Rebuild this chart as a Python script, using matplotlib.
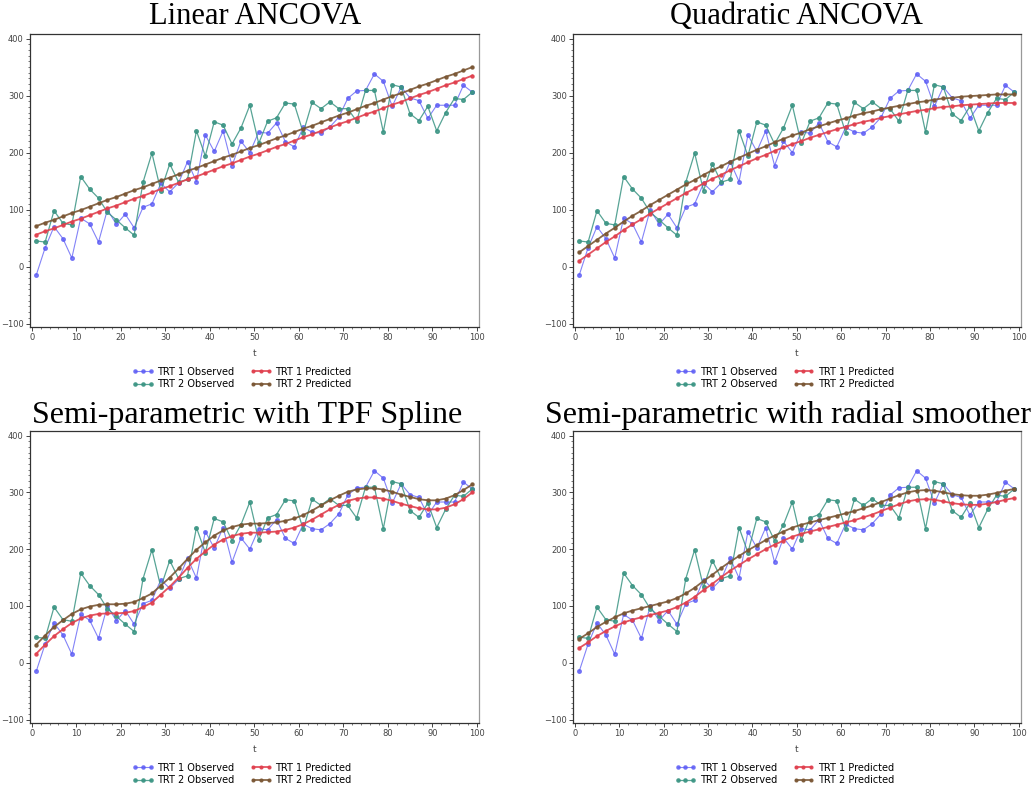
import matplotlib
matplotlib.use("Agg")
import matplotlib.pyplot as plt
from matplotlib.ticker import MultipleLocator

W, H = 1035, 792

# observation times (odd t)
t_vals = list(range(1, 100, 2))

trt1_observed = [-15, 33, 70, 49, 15, 85, 75, 43, 100, 74,
                 92, 68, 104, 110, 146, 131, 147, 184, 149, 231,
                 202, 238, 177, 220, 200, 236, 234, 252, 219, 210,
                 244, 236, 234, 245, 262, 295, 308, 309, 338, 325,
                 281, 315, 296, 291, 260, 283, 283, 283, 318, 306]
trt2_observed = [45, 43, 98, 76, 73, 158, 136, 120, 95, 82,
                 68, 55, 148, 199, 133, 180, 148, 153, 238, 194,
                 254, 248, 215, 243, 283, 216, 255, 261, 287, 285,
                 235, 288, 277, 289, 277, 277, 255, 309, 309, 236,
                 319, 315, 268, 256, 281, 238, 270, 295, 293, 306]

linear_trt1 = [56, 62, 67, 73, 79, 84, 90, 96, 102, 107,
               113, 119, 124, 130, 136, 141, 147, 153, 158, 164,
               170, 176, 181, 187, 193, 198, 204, 210, 215, 221,
               227, 232, 238, 244, 250, 255, 261, 267, 272, 278,
               284, 289, 295, 301, 306, 312, 318, 323, 329, 335]
linear_trt2 = [71, 77, 82, 88, 94, 99, 105, 111, 117, 122,
               128, 134, 139, 145, 151, 156, 162, 168, 173, 179,
               185, 191, 196, 202, 208, 213, 219, 225, 230, 236,
               242, 247, 253, 259, 265, 270, 276, 282, 287, 293,
               299, 304, 310, 316, 321, 327, 333, 338, 344, 350]

quad_trt1 = [10, 21, 32, 43, 53, 64, 74, 83, 93, 102,
             111, 120, 129, 137, 146, 154, 161, 169, 176, 183,
             190, 196, 203, 209, 215, 220, 226, 231, 236, 241,
             245, 250, 254, 257, 261, 264, 267, 270, 273, 275,
             278, 280, 281, 283, 284, 285, 286, 287, 287, 287]
quad_trt2 = [25, 36, 47, 58, 68, 79, 89, 98, 108, 117,
             126, 135, 144, 152, 161, 169, 176, 184, 191, 198,
             205, 211, 218, 224, 230, 235, 241, 246, 251, 256,
             260, 265, 269, 272, 276, 279, 282, 285, 288, 290,
             293, 295, 296, 298, 299, 300, 301, 302, 302, 302]

tpf_trt1 = [16, 32, 47, 59, 70, 78, 83, 86, 87, 87,
            88, 91, 98, 106, 120, 134, 150, 167, 183, 196,
            208, 217, 223, 227, 229, 229, 230, 231, 234, 238,
            244, 252, 261, 270, 278, 285, 289, 291, 291, 289,
            285, 280, 276, 272, 270, 270, 273, 279, 288, 300]
tpf_trt2 = [32, 48, 63, 75, 86, 94, 99, 102, 103, 103,
            104, 107, 114, 122, 136, 150, 166, 183, 199, 212,
            224, 233, 239, 243, 245, 245, 246, 247, 250, 254,
            260, 268, 277, 286, 294, 301, 305, 307, 307, 305,
            301, 296, 292, 288, 286, 286, 289, 295, 304, 314]

radial_trt1 = [26, 36, 47, 56, 64, 71, 76, 80, 84, 88,
               92, 98, 106, 116, 128, 139, 151, 162, 172, 182,
               191, 200, 208, 215, 222, 227, 231, 235, 239, 243,
               247, 251, 256, 261, 267, 273, 279, 284, 287, 288,
               287, 284, 281, 279, 278, 278, 280, 283, 287, 290]
radial_trt2 = [42, 52, 63, 72, 80, 87, 92, 96, 100, 104,
               108, 114, 122, 132, 144, 155, 167, 178, 188, 198,
               207, 216, 224, 231, 238, 243, 247, 251, 255, 259,
               263, 267, 272, 277, 283, 289, 295, 300, 303, 304,
               303, 300, 297, 295, 294, 294, 296, 299, 303, 306]

titles = ["Linear ANCOVA", "Quadratic ANCOVA",
          "Semi-parametric with TPF Spline", "Semi-parametric with radial smoother"]
predicted = [(linear_trt1, linear_trt2), (quad_trt1, quad_trt2),
             (tpf_trt1, tpf_trt2), (radial_trt1, radial_trt2)]

# pixel boxes (left, top, right, bottom); title centre x, baseline y, size
boxes = [(30, 34, 479, 327), (573, 34, 1021, 327),
         (30, 431, 479, 723), (573, 431, 1021, 723)]
title_pos = [(255, 24, 22), (796, 24, 22), (247, 423, 23), (788, 423, 23)]

BLUE = "#5a5af5"
GREEN = "#3a9483"
RED = "#e0404e"
BROWN = "#7a5634"


def px_rect(l, t, r, b):
    return [l / W, 1 - b / H, (r - l) / W, (b - t) / H]


fig = plt.figure(figsize=(W / 100, H / 100), dpi=100)
fig.patch.set_facecolor("white")

for box, (tx, ty, tsize), title, (p1, p2) in zip(boxes, title_pos, titles, predicted):
    ax = fig.add_axes(px_rect(*box))
    ax.plot(t_vals, trt1_observed, color=BLUE, lw=0.8, alpha=0.75,
            marker="o", ms=2.6, label="TRT 1 Observed")
    ax.plot(t_vals, trt2_observed, color=GREEN, lw=0.9, alpha=0.85,
            marker="o", ms=2.6, label="TRT 2 Observed")
    ax.plot(t_vals, p1, color=RED, lw=1.3, alpha=0.9,
            marker="o", ms=2.2, label="TRT 1 Predicted")
    ax.plot(t_vals, p2, color=BROWN, lw=1.3, alpha=0.9,
            marker="o", ms=2.2, label="TRT 2 Predicted")

    ax.set_xlim(-0.4, 100.5)
    ax.set_ylim(-106, 408)
    ax.xaxis.set_major_locator(MultipleLocator(10))
    ax.xaxis.set_minor_locator(MultipleLocator(2))
    ax.yaxis.set_major_locator(MultipleLocator(100))
    ax.yaxis.set_minor_locator(MultipleLocator(10))
    ax.tick_params(which="major", direction="out", length=3, width=0.7,
                   labelsize=6, colors="#444444", pad=1.5)
    ax.tick_params(which="minor", direction="out", length=1.5, width=0.5,
                   colors="#444444")
    for side in ["top", "left", "bottom"]:
        ax.spines[side].set_color("#333333")
        ax.spines[side].set_linewidth(0.9)
    ax.spines["right"].set_color("#999999")
    ax.spines["right"].set_linewidth(0.9)

    h = box[3] - box[1]
    ax.text(0.5, -26 / h, "t", transform=ax.transAxes, ha="center",
            va="center", fontsize=6.5, color="#444444")
    ax.legend(loc="center", bbox_to_anchor=(0.472, -51 / h), ncol=2,
              frameon=False, fontsize=7, numpoints=3, handlelength=2.2,
              handletextpad=0.4, columnspacing=1.6, labelspacing=0.25,
              markerscale=0.9)

    fig.text(tx / W, 1 - ty / H, title, ha="center", va="baseline",
             fontsize=tsize, family="Liberation Serif")

fig.savefig("out.png", dpi=100, facecolor="white")
